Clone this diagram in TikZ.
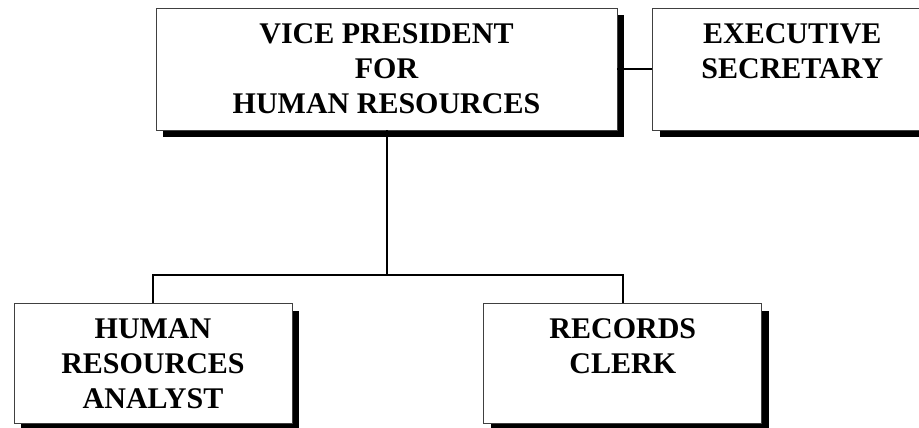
\documentclass[tikz,border=0pt]{standalone}
\usepackage{fontspec}
\setmainfont{Liberation Serif}
\usetikzlibrary{positioning, shadows}
\tikzset{
post/.style={draw=black!75, line width=0.8pt, fill=white, align=center, % the boxes
  font=\bfseries\fontsize{30}{35}\selectfont,
  drop shadow={shadow xshift=7pt, shadow yshift=-7pt, fill=black, opacity=1}}, % solid black shadow
wide/.style={minimum width=461pt, minimum height=122pt}, % top box
side/.style={minimum width=279pt, minimum height=122pt}, % box on the right
low/.style={minimum width=278pt, minimum height=120pt}, % boxes below
link/.style={line width=2pt}, % lines between the boxes
}

\begin{document}
\begin{tikzpicture}
  \useasboundingbox (0,0) rectangle (919pt,428pt);

  \node[post, wide] (vp) at (386.5pt,359pt) {VICE PRESIDENT\\FOR\\HUMAN RESOURCES};
  \node[post, side, right=35pt of vp] (es) {EXECUTIVE\\SECRETARY\\\mbox{}};
  \node[post, low, below=173pt of vp, xshift=-233.5pt] (hra) {HUMAN\\RESOURCES\\ANALYST};
  \node[post, low, right=191pt of hra] (rc) {RECORDS\\CLERK\\\mbox{}};

  \coordinate[above=28pt of hra.north] (bus);

  \draw[link] (vp.east) -- (es.west);
  \draw[link] (vp.south) -- (vp.south |- bus);
  \draw[link] (hra.north) -- (bus) -| (rc.north);
\end{tikzpicture}
\end{document}
